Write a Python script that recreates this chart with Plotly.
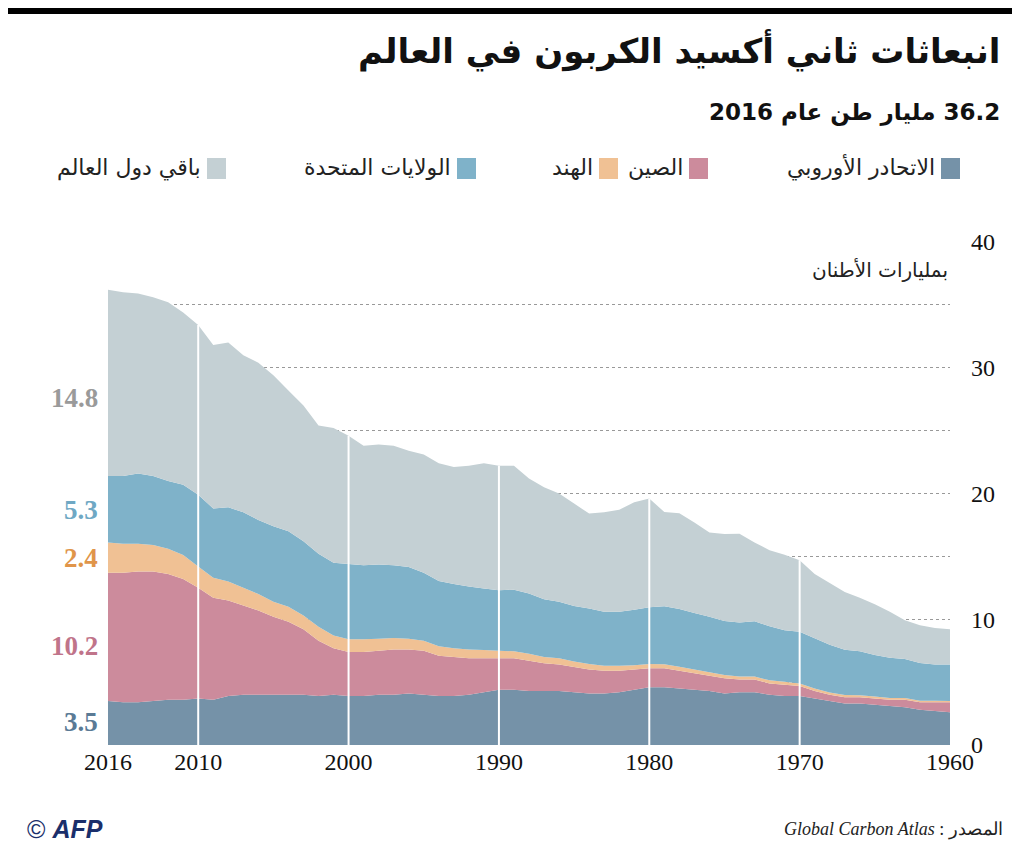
import plotly.graph_objects as go

years = list(range(2016, 1959, -1))

eu = [3.5, 3.4, 3.4, 3.5, 3.6, 3.6, 3.7, 3.6, 3.9, 4.0, 4.0, 4.0,
      4.0, 4.0, 3.9, 4.0, 3.9, 3.9, 4.0, 4.0, 4.1, 4.0,
      3.9, 3.9, 4.0, 4.2, 4.4, 4.4, 4.3, 4.3, 4.3, 4.2,
      4.1, 4.1, 4.2, 4.4, 4.6, 4.6, 4.5, 4.4, 4.3, 4.1,
      4.2, 4.2, 4.0, 3.9, 3.9, 3.7, 3.5, 3.3, 3.3, 3.2,
      3.1, 3.0, 2.8, 2.7, 2.6]
china = [10.2, 10.3, 10.4, 10.3, 10.0, 9.6, 8.8, 8.1, 7.6, 7.1, 6.7, 6.2,
         5.8, 5.2, 4.4, 3.7, 3.5, 3.5, 3.5, 3.6, 3.5, 3.5,
         3.2, 3.1, 2.9, 2.7, 2.5, 2.5, 2.4, 2.2, 2.1, 2.0,
         1.9, 1.8, 1.7, 1.6, 1.5, 1.5, 1.4, 1.3, 1.2, 1.2,
         1.0, 1.0, 0.9, 0.9, 0.8, 0.6, 0.5, 0.5, 0.5, 0.5,
         0.5, 0.6, 0.6, 0.7, 0.8]
india = [2.4, 2.3, 2.2, 2.1, 2.0, 1.9, 1.7, 1.6, 1.5, 1.4, 1.3, 1.2,
         1.2, 1.1, 1.1, 1.0, 1.0, 1.0, 0.95, 0.9, 0.85, 0.8,
         0.75, 0.7, 0.7, 0.65, 0.6, 0.55, 0.55, 0.5, 0.5, 0.45,
         0.45, 0.4, 0.4, 0.35, 0.35, 0.33, 0.32, 0.3, 0.29, 0.27,
         0.25, 0.25, 0.24, 0.22, 0.2, 0.19, 0.18, 0.17, 0.16, 0.15,
         0.14, 0.13, 0.12, 0.11, 0.1]
usa = [5.3, 5.4, 5.6, 5.5, 5.4, 5.6, 5.7, 5.5, 5.9, 6.0, 5.9, 6.0,
       6.0, 5.9, 5.8, 5.8, 6.0, 5.9, 5.9, 5.8, 5.7, 5.4,
       5.2, 5.1, 5.0, 4.9, 4.8, 4.9, 4.8, 4.6, 4.5, 4.4,
       4.4, 4.3, 4.3, 4.4, 4.5, 4.6, 4.6, 4.5, 4.4, 4.3,
       4.3, 4.4, 4.3, 4.1, 4.1, 4.0, 3.8, 3.6, 3.5, 3.3,
       3.2, 3.1, 3.0, 2.9, 2.9]
rest = [14.8, 14.6, 14.3, 14.2, 14.2, 13.7, 13.5, 13.0, 13.1, 12.5, 12.5, 12.0,
        11.2, 10.8, 10.2, 10.7, 10.2, 9.5, 9.55, 9.5, 9.25, 9.4,
        9.35, 9.3, 9.6, 9.95, 9.9, 9.85, 9.15, 8.9, 8.6, 8.15,
        7.55, 7.9, 8.1, 8.55, 8.65, 7.5, 7.6, 7.2, 6.7, 6.9,
        7.05, 6.25, 6.05, 6.0, 5.7, 5.1, 4.9, 4.6, 4.25, 4.05,
        3.65, 3.1, 3.0, 2.9, 2.8]

names = ["الاتحادر الأوروبي", "الصين", "الهند", "الولايات المتحدة", "باقي دول العالم"]
colors = ["#7592a8", "#cc8b9c", "#f0c194", "#7fb2c9", "#c4d0d4"]
label_colors = ["#5a7a95", "#c0748a", "#e0954a", "#6fa8c4", "#9a9a9a"]
series = [eu, china, india, usa, rest]
label_y = [1.8, 7.9, 14.9, 18.7, 27.6]
marked_years = [2010, 2000, 1990, 1980, 1970]

serif = "Liberation Serif"
arab = "DejaVu Sans"
RLM = "\u200f"


def px(x):
    return (x - 108) / 842


def py(y):
    return (745 - y) / 503


fig = go.Figure()
for vals, name, col in zip(series, names, colors):
    fig.add_trace(go.Scatter(x=years, y=vals, name=name, stackgroup="one",
                             mode="none", fillcolor=col, showlegend=False))

totals = [sum(v) for v in zip(*series)]
for yr in marked_years:
    i = years.index(yr)
    fig.add_trace(go.Scatter(x=[yr, yr], y=[0, totals[i]], mode="lines",
                             line=dict(color="white", width=2), showlegend=False,
                             hoverinfo="skip"))

ann = []
for vals, col, ly in zip(series, label_colors, label_y):
    ann.append(dict(x=0, xref="paper", y=ly, yref="y", xanchor="right", xshift=-8,
                    text=f"<b>{vals[0]}</b>", showarrow=False,
                    font=dict(family=serif, size=27, color=col)))

# manual legend (right to left)
sq_right = [960, 708, 618, 476, 226]
for name, col, sx in zip(names, colors, sq_right):
    fig.add_shape(type="rect", xref="paper", yref="paper",
                  x0=px(sx - 19), x1=px(sx), y0=py(179), y1=py(158),
                  line=dict(width=0), fillcolor=col)
    ann.append(dict(x=px(sx - 23), xref="paper", y=py(168), yref="paper",
                    xanchor="right", yanchor="middle", text=name, showarrow=False,
                    font=dict(family=arab, size=22, color="#222")))

ann += [
    dict(x=px(1002), xref="paper", xanchor="right", y=py(50), yref="paper",
         yanchor="middle", text="<b>انبعاثات ثاني أكسيد الكربون في العالم</b>",
         showarrow=False, font=dict(family=arab, size=34, color="#111")),
    dict(x=px(1002), xref="paper", xanchor="right", y=py(112), yref="paper",
         yanchor="middle", text=RLM + "<b>36.2 مليار طن عام 2016</b>",
         showarrow=False, font=dict(family=arab, size=23, color="#111")),
    dict(x=px(950), xref="paper", xanchor="right", y=py(270), yref="paper",
         yanchor="middle", text="بمليارات الأطنان",
         showarrow=False, font=dict(family=arab, size=20, color="#222")),
    dict(x=px(25), xref="paper", xanchor="left", y=py(829), yref="paper", yanchor="middle",
         text="© <b><i>AFP</i></b>", showarrow=False,
         font=dict(family="Liberation Sans", size=25, color="#1a2f6b")),
    dict(x=px(1005), xref="paper", xanchor="right", y=py(829), yref="paper", yanchor="middle",
         text="<i>Global Carbon Atlas</i> : المصدر", showarrow=False,
         font=dict(family=serif, size=18, color="#222")),
]

# top black band (figure top edge)
fig.add_shape(type="rect", xref="paper", yref="paper", x0=px(0), x1=px(1020),
              y0=py(14), y1=py(6), line=dict(width=0), fillcolor="black")

fig.update_layout(
    width=1020, height=860,
    margin=dict(l=100, r=78, t=234, b=123),
    paper_bgcolor="white", plot_bgcolor="white",
    annotations=ann,
    xaxis=dict(range=[2016, 1960], tickvals=[2016, 2010, 2000, 1990, 1980, 1970, 1960],
               showgrid=False, zeroline=False, showline=False, ticks="",
               tickfont=dict(family=serif, size=24, color="#111")),
    yaxis=dict(range=[0, 40], side="right", dtick=10, showgrid=True,
               gridcolor="#999", griddash="dot", zeroline=False, ticks="",
               ticklabelstandoff=20,
               tickfont=dict(family=serif, size=24, color="#111"),
               minor=dict(dtick=5, showgrid=True, gridcolor="#999", griddash="dot")),
)

fig.write_html("out.html")
